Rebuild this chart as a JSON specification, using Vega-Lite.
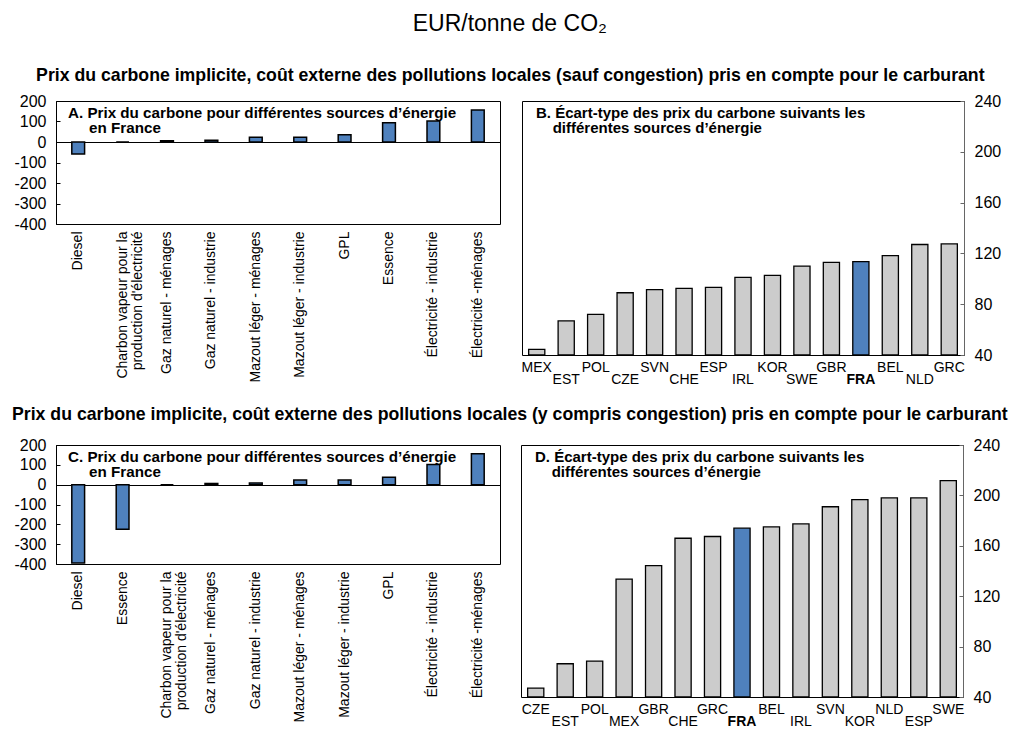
{
  "$schema": "https://vega.github.io/schema/vega-lite/v6.json",
  "background": "white",
  "padding": {"left": 12, "right": 5, "top": 12, "bottom": 5},
  "title": {"text": "EUR/tonne de CO₂", "fontSize": 23, "fontWeight": "normal", "anchor": "middle", "offset": 31, "color": "#000"},
  "datasets": {
    "fr_sauf": [
      {"source": "Diesel", "prix": -58},
      {"source": "Charbon vapeur pour la production d'électricité", "prix": 0},
      {"source": "Gaz naturel - ménages", "prix": 6},
      {"source": "Gaz naturel - industrie", "prix": 9},
      {"source": "Mazout léger - ménages", "prix": 23},
      {"source": "Mazout léger - industrie", "prix": 23},
      {"source": "GPL", "prix": 35},
      {"source": "Essence", "prix": 94},
      {"source": "Électricité - industrie", "prix": 102},
      {"source": "Électricité -ménages", "prix": 156}
    ],
    "fr_avec": [
      {"source": "Diesel", "prix": -395},
      {"source": "Essence", "prix": -225},
      {"source": "Charbon vapeur pour la production d'électricité", "prix": 0},
      {"source": "Gaz naturel - ménages", "prix": 6},
      {"source": "Gaz naturel - industrie", "prix": 9},
      {"source": "Mazout léger - ménages", "prix": 23},
      {"source": "Mazout léger - industrie", "prix": 23},
      {"source": "GPL", "prix": 38},
      {"source": "Électricité - industrie", "prix": 102},
      {"source": "Électricité -ménages", "prix": 156}
    ],
    "ecart_sauf": [
      {"pays": "MEX", "ecart": 44.4},
      {"pays": "EST", "ecart": 66.8},
      {"pays": "POL", "ecart": 72},
      {"pays": "CZE", "ecart": 89},
      {"pays": "SVN", "ecart": 91.4},
      {"pays": "CHE", "ecart": 92.4},
      {"pays": "ESP", "ecart": 93.2},
      {"pays": "IRL", "ecart": 101.2},
      {"pays": "KOR", "ecart": 102.7},
      {"pays": "SWE", "ecart": 110},
      {"pays": "GBR", "ecart": 113},
      {"pays": "FRA", "ecart": 113.5},
      {"pays": "BEL", "ecart": 118.2},
      {"pays": "NLD", "ecart": 127},
      {"pays": "GRC", "ecart": 127.5}
    ],
    "ecart_avec": [
      {"pays": "CZE", "ecart": 47},
      {"pays": "EST", "ecart": 66.4},
      {"pays": "POL", "ecart": 68.5},
      {"pays": "MEX", "ecart": 133.6},
      {"pays": "GBR", "ecart": 144.3},
      {"pays": "CHE", "ecart": 166},
      {"pays": "GRC", "ecart": 167.4},
      {"pays": "FRA", "ecart": 174},
      {"pays": "BEL", "ecart": 175},
      {"pays": "IRL", "ecart": 177.4},
      {"pays": "SVN", "ecart": 191},
      {"pays": "KOR", "ecart": 196.6},
      {"pays": "NLD", "ecart": 198},
      {"pays": "ESP", "ecart": 198},
      {"pays": "SWE", "ecart": 211.8}
    ]
  },
  "spacing": 18,
  "vconcat": [
    {
      "title": {"text": "Prix du carbone implicite, coût externe des pollutions locales (sauf congestion) pris en compte pour le carburant", "fontSize": 17.7, "fontWeight": "bold", "anchor": "middle", "offset": 8, "dx": 3, "color": "#000"},
      "spacing": 19,
      "hconcat": [
        {
          "width": 444,
          "height": 123,
          "data": {"name": "fr_sauf"},
          "title": {"text": ["A. Prix du carbone pour différentes sources d’énergie", "\u200b\u00a0\u00a0\u00a0\u00a0\u00a0en France"], "frame": "group", "anchor": "start", "dx": 12, "offset": -43, "baseline": "top", "fontSize": 15.2, "fontWeight": "bold", "lineHeight": 15, "color": "#000"},
          "mark": {"type": "bar", "color": "#4F81BD", "stroke": "#000", "strokeWidth": 1.5, "width": {"band": 0.32}},
          "encoding": {
            "x": {"field": "source", "type": "nominal", "sort": null,
                  "axis": {"title": null, "labelAngle": -90, "ticks": false, "domain": false, "labelFontSize": 14, "labelPadding": 7, "labelLineHeight": 15,
                           "labelExpr": "datum.value === \"Charbon vapeur pour la production d'électricité\" ? ['Charbon vapeur pour la', \"production d'électricité\"] : datum.label"}},
            "y": {"field": "prix", "type": "quantitative", "scale": {"domain": [-400, 200], "nice": false},
                  "axis": {"title": null, "values": [-400, -300, -200, -100, 0, 100, 200], "labelOverlap": false, "labelExpr": "(datum.value < 0 ? '-' : '') + abs(datum.value)", "labelFontSize": 16, "tickSize": -4, "labelPadding": 14, "domainColor": "#000", "tickColor": "#000",
                           "grid": true, "gridColor": "#000", "gridWidth": 1, "gridOpacity": {"condition": {"test": "datum.value === 0", "value": 1}, "value": 0}}}
          }
        },
        {
          "width": 442,
          "height": 254,
          "data": {"name": "ecart_sauf"},
          "title": {"text": ["B. Écart-type des prix du carbone suivants les", "\u200b\u00a0\u00a0\u00a0\u00a0différentes sources d’énergie"], "frame": "group", "anchor": "start", "dx": 14, "offset": -43, "baseline": "top", "fontSize": 15, "fontWeight": "bold", "lineHeight": 15, "color": "#000"},
          "mark": {"type": "bar", "stroke": "#000", "strokeWidth": 1.3, "width": {"band": 0.61}},
          "encoding": {
            "x": {"field": "pays", "type": "nominal", "sort": null,
                  "axis": {"title": null, "labelAngle": 0, "ticks": false, "domain": false, "labelFontSize": 14, "labelBaseline": "top", "labelOverlap": false,
                           "labelPadding": {"condition": {"test": "indexof(['EST','CZE','CHE','IRL','SWE','FRA','NLD'], datum.value) >= 0", "value": 17}, "value": 5},
                           "labelFontWeight": {"condition": {"test": "datum.value === 'FRA'", "value": "bold"}, "value": "normal"}}},
            "y": {"field": "ecart", "type": "quantitative", "scale": {"domain": [40, 240], "zero": false, "nice": false},
                  "axis": {"title": null, "orient": "right", "values": [40, 80, 120, 160, 200, 240], "labelOverlap": false, "labelFontSize": 16, "tickSize": -4, "labelPadding": 14, "grid": false, "domainColor": "#666", "tickColor": "#666"}},
            "y2": {"datum": 40},
            "color": {"condition": {"test": "datum.pays === 'FRA'", "value": "#4F81BD"}, "value": "#CCCCCC"}
          }
        }
      ]
    },
    {
      "title": {"text": "Prix du carbone implicite, coût externe des pollutions locales (y compris congestion) pris en compte pour le carburant", "fontSize": 17.7, "fontWeight": "bold", "anchor": "middle", "offset": 13, "dx": 3, "color": "#000"},
      "spacing": 19,
      "hconcat": [
        {
          "width": 444,
          "height": 119,
          "data": {"name": "fr_avec"},
          "title": {"text": ["C. Prix du carbone pour différentes sources d’énergie", "\u200b\u00a0\u00a0\u00a0\u00a0\u00a0en France"], "frame": "group", "anchor": "start", "dx": 12, "offset": -43, "baseline": "top", "fontSize": 15.2, "fontWeight": "bold", "lineHeight": 15, "color": "#000"},
          "mark": {"type": "bar", "color": "#4F81BD", "stroke": "#000", "strokeWidth": 1.5, "width": {"band": 0.32}},
          "encoding": {
            "x": {"field": "source", "type": "nominal", "sort": null,
                  "axis": {"title": null, "labelAngle": -90, "ticks": false, "domain": false, "labelFontSize": 14, "labelPadding": 7, "labelLineHeight": 15,
                           "labelExpr": "datum.value === \"Charbon vapeur pour la production d'électricité\" ? ['Charbon vapeur pour la', \"production d'électricité\"] : datum.label"}},
            "y": {"field": "prix", "type": "quantitative", "scale": {"domain": [-400, 200], "nice": false},
                  "axis": {"title": null, "values": [-400, -300, -200, -100, 0, 100, 200], "labelOverlap": false, "labelExpr": "(datum.value < 0 ? '-' : '') + abs(datum.value)", "labelFontSize": 16, "tickSize": -4, "labelPadding": 14, "domainColor": "#000", "tickColor": "#000",
                           "grid": true, "gridColor": "#000", "gridWidth": 1, "gridOpacity": {"condition": {"test": "datum.value === 0", "value": 1}, "value": 0}}}
          }
        },
        {
          "width": 442,
          "height": 252,
          "data": {"name": "ecart_avec"},
          "title": {"text": ["D. Écart-type des prix du carbone suivants les", "\u200b\u00a0\u00a0\u00a0\u00a0différentes sources d’énergie"], "frame": "group", "anchor": "start", "dx": 14, "offset": -43, "baseline": "top", "fontSize": 15, "fontWeight": "bold", "lineHeight": 15, "color": "#000"},
          "mark": {"type": "bar", "stroke": "#000", "strokeWidth": 1.3, "width": {"band": 0.61}},
          "encoding": {
            "x": {"field": "pays", "type": "nominal", "sort": null,
                  "axis": {"title": null, "labelAngle": 0, "ticks": false, "domain": false, "labelFontSize": 14, "labelBaseline": "top", "labelOverlap": false,
                           "labelPadding": {"condition": {"test": "indexof(['EST','MEX','CHE','FRA','IRL','KOR','ESP'], datum.value) >= 0", "value": 17}, "value": 5},
                           "labelFontWeight": {"condition": {"test": "datum.value === 'FRA'", "value": "bold"}, "value": "normal"}}},
            "y": {"field": "ecart", "type": "quantitative", "scale": {"domain": [40, 240], "zero": false, "nice": false},
                  "axis": {"title": null, "orient": "right", "values": [40, 80, 120, 160, 200, 240], "labelOverlap": false, "labelFontSize": 16, "tickSize": -4, "labelPadding": 14, "grid": false, "domainColor": "#666", "tickColor": "#666"}},
            "y2": {"datum": 40},
            "color": {"condition": {"test": "datum.pays === 'FRA'", "value": "#4F81BD"}, "value": "#CCCCCC"}
          }
        }
      ]
    }
  ],
  "config": {
    "font": "Liberation Sans",
    "view": {"stroke": "#000", "strokeWidth": 1},
    "axis": {"labelColor": "#000", "labelFont": "Liberation Sans"},
    "title": {"font": "Liberation Sans"}
  }
}
